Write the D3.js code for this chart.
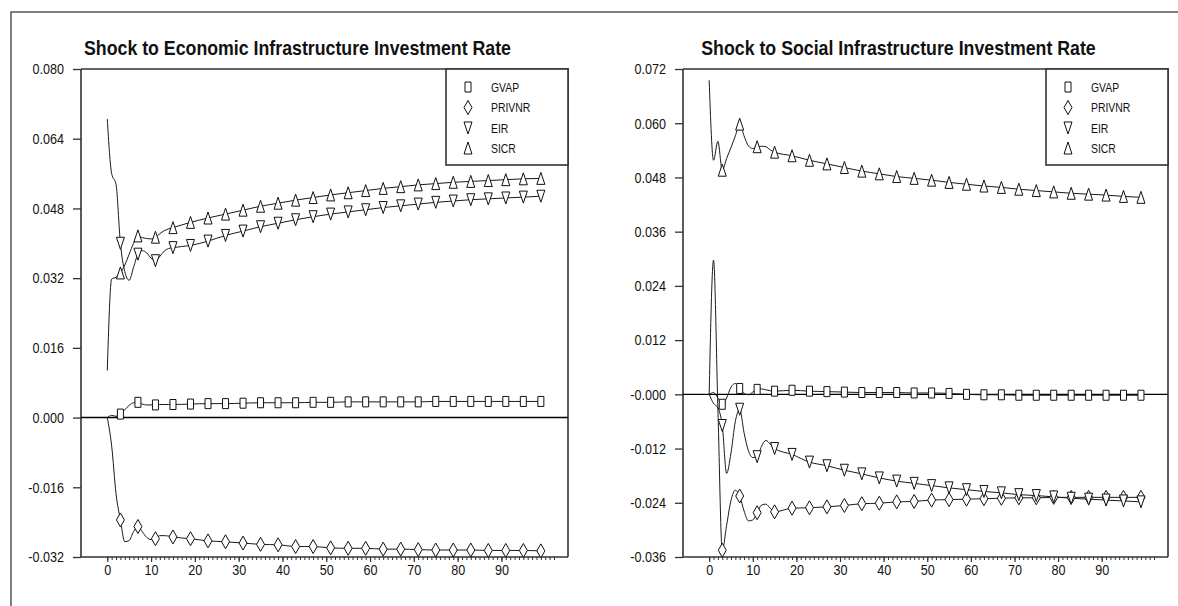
<!DOCTYPE html>
<html>
<head>
<meta charset="utf-8">
<script src="https://cdn.jsdelivr.net/npm/d3@7"></script>
<style>
  body { margin: 0; background: #fff; }
  svg { display: block; font-family: "Liberation Sans", Arial, sans-serif; }
</style>
</head>
<body>
<svg id="chart" width="1178" height="606"></svg>
<script>
// Response horizon (periods) at which each series value is listed
const periods = [0,1,2,3,4,5,6,7,8,9,10,11,12,13,14,15,19,23,27,31,35,39,43,47,51,55,59,63,67,71,75,79,83,87,91,95,99];
// Periods that carry a symbol
const markerPeriods = [3,7,11,15,19,23,27,31,35,39,43,47,51,55,59,63,67,71,75,79,83,87,91,95,99];

const seriesNames = ["GVAP", "PRIVNR", "EIR", "SICR"];

// Shock to economic infrastructure investment rate
const econGVAP   = [0,0.0005,0.0003,0.0008,0.0018,0.0028,0.0034,0.0035,0.0031,0.0029,0.0029,0.0029,0.0030,0.0030,0.0030,0.0030,0.0031,0.0032,0.0032,0.0033,0.0034,0.0034,0.0034,0.0035,0.0035,0.0036,0.0036,0.0036,0.0036,0.0036,0.0037,0.0037,0.0037,0.0037,0.0037,0.0037,0.0037];
const econPRIVNR = [0,-0.0065,-0.0175,-0.0235,-0.0285,-0.0282,-0.0262,-0.0250,-0.0262,-0.0275,-0.0280,-0.0278,-0.0271,-0.0271,-0.0272,-0.0274,-0.0278,-0.0283,-0.0285,-0.0288,-0.0291,-0.0292,-0.0296,-0.0296,-0.0299,-0.0300,-0.0300,-0.0302,-0.0302,-0.0303,-0.0304,-0.0304,-0.0304,-0.0305,-0.0305,-0.0305,-0.0306];
const econEIR    = [0.0685,0.0560,0.0535,0.0400,0.0335,0.0315,0.0345,0.0375,0.0383,0.0378,0.0366,0.0360,0.0370,0.0382,0.0388,0.0390,0.0395,0.0405,0.0418,0.0428,0.0438,0.0446,0.0454,0.0461,0.0467,0.0472,0.0477,0.0482,0.0486,0.0490,0.0494,0.0497,0.0500,0.0502,0.0504,0.0506,0.0508];
const econSICR   = [0.0108,0.0318,0.0322,0.0332,0.0350,0.0375,0.0400,0.0417,0.0413,0.0411,0.0410,0.0414,0.0422,0.0429,0.0433,0.0436,0.0448,0.0458,0.0467,0.0476,0.0485,0.0492,0.0499,0.0505,0.0511,0.0516,0.0521,0.0526,0.0530,0.0534,0.0537,0.0540,0.0542,0.0544,0.0546,0.0548,0.0549];

// Shock to social infrastructure investment rate
const socialGVAP   = [0,0.0004,-0.0008,-0.0022,-0.0008,0.0016,0.0024,0.0013,0.0002,-0.0001,0.0005,0.0011,0.0012,0.0010,0.0008,0.0007,0.0009,0.0007,0.0006,0.0005,0.0004,0.0004,0.0004,0.0003,0.0003,0.0002,0.0000,-0.0001,-0.0001,-0.0002,-0.0002,-0.0002,-0.0002,-0.0002,-0.0002,-0.0002,-0.0002];
const socialPRIVNR = [0,0.0297,-0.0030,-0.0345,-0.0290,-0.0235,-0.0212,-0.0225,-0.0258,-0.0280,-0.0278,-0.0262,-0.0245,-0.0243,-0.0252,-0.0260,-0.0252,-0.0251,-0.0249,-0.0246,-0.0242,-0.0241,-0.0238,-0.0237,-0.0234,-0.0233,-0.0232,-0.0231,-0.0230,-0.0229,-0.0229,-0.0228,-0.0228,-0.0228,-0.0228,-0.0228,-0.0228];
const socialEIR    = [0,-0.0020,-0.0030,-0.0069,-0.0175,-0.0130,-0.0060,-0.0033,-0.0085,-0.0125,-0.0140,-0.0138,-0.0115,-0.0102,-0.0110,-0.0120,-0.0133,-0.0150,-0.0158,-0.0168,-0.0176,-0.0185,-0.0192,-0.0197,-0.0202,-0.0207,-0.0211,-0.0215,-0.0218,-0.0222,-0.0224,-0.0227,-0.0230,-0.0232,-0.0234,-0.0236,-0.0238];
const socialSICR   = [0.0695,0.0518,0.0560,0.0496,0.0522,0.0546,0.0572,0.0598,0.0572,0.0550,0.0544,0.0548,0.0549,0.0548,0.0541,0.0536,0.0528,0.0518,0.0510,0.0502,0.0494,0.0488,0.0482,0.0478,0.0474,0.0469,0.0465,0.0461,0.0458,0.0454,0.0451,0.0448,0.0445,0.0443,0.0441,0.0438,0.0436];

// Axis ticks and labels
const econTicks = [0.080,0.064,0.048,0.032,0.016,0,-0.016,-0.032];
const econTickLabels = ["0.080","0.064","0.048","0.032","0.016","0.000","-0.016","-0.032"];
const socialTicks = [0.072,0.060,0.048,0.036,0.024,0.012,0,-0.012,-0.024,-0.036];
const socialTickLabels = ["0.072","0.060","0.048","0.036","0.024","0.012","-0.000","-0.012","-0.024","-0.036"];
const xTicks = [0,10,20,30,40,50,60,70,80,90];
const xTickLabels = ["0","10","20","30","40","50","60","70","80","90"];

const titles = ["Shock to Economic Infrastructure Investment Rate", "Shock to Social Infrastructure Investment Rate"];

const shapes = ["rect", "diamond", "triDown", "triUp"];

function symbolPath(shape) {
  switch (shape) {
    case "rect":    return "M-3,-5H3V5H-3Z";
    case "diamond": return "M0,-7L4,0L0,7L-4,0Z";
    case "triDown": return "M-4,-6H4L0,6Z";
    default:        return "M0,-6L4,6H-4Z";
  }
}

// narrow the glyphs of a text selection horizontally, keeping its anchor
function condense(sel, factor) {
  sel.each(function () {
    const w = this.getComputedTextLength();
    if (w > 0) {
      d3.select(this)
        .attr("textLength", w * factor)
        .attr("lengthAdjust", "spacingAndGlyphs");
    }
  });
}

const svg = d3.select("#chart");
svg.append("rect").attr("width", 1178).attr("height", 606).attr("fill", "#fff");

// outer page frame
svg.append("path")
  .attr("d", "M11,606V12H1178")
  .attr("fill", "none").attr("stroke", "#555").attr("stroke-width", 1.5);

const panels = [
  { title: titles[0], left: 81,  right: 568,  top: 69, bottom: 557,
    ticks: econTicks, tickLabels: econTickLabels, yDomain: [-0.032, 0.080],
    series: [econGVAP, econPRIVNR, econEIR, econSICR] },
  { title: titles[1], left: 683, right: 1168, top: 69, bottom: 557,
    ticks: socialTicks, tickLabels: socialTickLabels, yDomain: [-0.036, 0.072],
    series: [socialGVAP, socialPRIVNR, socialEIR, socialSICR] }
];

const minorTicks = d3.range(0, 103);

panels.forEach(p => {
  const g = svg.append("g");
  const x = d3.scaleLinear().domain([-6, 105.2]).range([p.left, p.right]);
  const y = d3.scaleLinear().domain(p.yDomain).range([p.bottom, p.top]);

  // title
  const t = g.append("text")
    .attr("x", (p.left + p.right) / 2 - 27)
    .attr("y", 55)
    .attr("text-anchor", "middle")
    .attr("font-size", 21)
    .attr("font-weight", "bold")
    .attr("fill", "#111")
    .text(p.title);
  condense(t, 0.845);

  // top and right frame
  g.append("path")
    .attr("d", `M${p.left},${p.top}H${p.right}V${p.bottom}`)
    .attr("fill", "none").attr("stroke", "#333").attr("stroke-width", 1.6);

  // y axis
  const yAxis = d3.axisLeft(y)
    .tickValues(p.ticks)
    .tickFormat((d, i) => p.tickLabels[i])
    .tickSize(8).tickPadding(9);
  const ya = g.append("g").attr("transform", `translate(${p.left},0)`).call(yAxis);
  ya.attr("font-family", null);
  ya.select(".domain").attr("stroke", "#333").attr("stroke-width", 1.6).attr("d", `M0,${p.top}V${p.bottom}`);
  ya.selectAll(".tick line").attr("stroke", "#333").attr("stroke-width", 1.3);
  ya.selectAll(".tick text").attr("font-size", 15).attr("fill", "#111");
  condense(ya.selectAll(".tick text"), 0.84);

  // x axis: minor ticks every period, major ticks every ten
  const xMinor = d3.axisBottom(x).tickValues(minorTicks).tickSize(3).tickFormat("");
  const xm = g.append("g").attr("transform", `translate(0,${p.bottom})`).call(xMinor);
  xm.select(".domain").attr("stroke", "#333").attr("stroke-width", 1.6).attr("d", `M${p.left},0H${p.right}`);
  xm.selectAll(".tick line").attr("stroke", "#333").attr("stroke-width", 1);

  const xMajor = d3.axisBottom(x).tickValues(xTicks)
    .tickFormat((d, i) => xTickLabels[i]).tickSize(5).tickPadding(2);
  const xa = g.append("g").attr("transform", `translate(0,${p.bottom})`).call(xMajor);
  xa.select(".domain").remove();
  xa.attr("font-family", null);
  xa.selectAll(".tick line").attr("stroke", "#333").attr("stroke-width", 1.2);
  xa.selectAll(".tick text").attr("font-size", 15).attr("fill", "#111");
  condense(xa.selectAll(".tick text"), 0.84);

  // zero line
  g.append("line")
    .attr("x1", p.left).attr("x2", p.right)
    .attr("y1", y(0)).attr("y2", y(0))
    .attr("stroke", "#000").attr("stroke-width", 1.4);

  // response lines
  const line = d3.line()
    .x((d, i) => x(periods[i]))
    .y(d => y(d))
    .curve(d3.curveMonotoneX);

  p.series.forEach(vals => {
    g.append("path")
      .attr("d", line(vals))
      .attr("fill", "none")
      .attr("stroke", "#1a1a1a")
      .attr("stroke-width", 1);
  });

  // symbols
  p.series.forEach((vals, si) => {
    const pts = markerPeriods.map(m => [m, vals[periods.indexOf(m)]]);
    g.append("g").selectAll("path")
      .data(pts)
      .join("path")
      .attr("transform", d => `translate(${x(d[0])},${y(d[1])})`)
      .attr("d", symbolPath(shapes[si]))
      .attr("fill", "#fff")
      .attr("stroke", "#111")
      .attr("stroke-width", 1);
  });

  // legend
  const lg = g.append("g").attr("transform", `translate(${p.right - 122},${p.top})`);
  lg.append("rect")
    .attr("width", 122).attr("height", 96)
    .attr("fill", "#fff").attr("stroke", "#333").attr("stroke-width", 1.6);
  const rowY = [18, 38.5, 59, 79];
  seriesNames.forEach((name, i) => {
    lg.append("path")
      .attr("transform", `translate(22,${rowY[i]})`)
      .attr("d", symbolPath(shapes[i]))
      .attr("fill", "#fff").attr("stroke", "#111").attr("stroke-width", 1);
    const lt = lg.append("text")
      .attr("x", 45).attr("y", rowY[i])
      .attr("dy", "0.35em")
      .attr("font-size", 13)
      .attr("fill", "#111")
      .text(name);
    condense(lt, 0.8);
  });
});
</script>
</body>
</html>
